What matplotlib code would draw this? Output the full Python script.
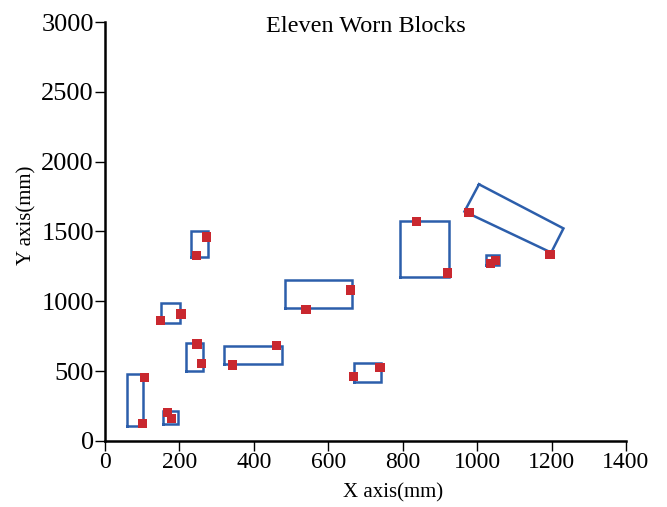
import matplotlib
matplotlib.use("Agg")
import matplotlib.pyplot as plt

# Axis-aligned block outlines (mm)
rect_x0 = [58, 155, 218, 320, 150, 231, 484, 670, 794, 1025]
rect_x1 = [103, 195, 263, 476, 202, 276, 665, 741, 924, 1058]
rect_y0 = [110, 122, 503, 551, 845, 1319, 952, 424, 1172, 1260]
rect_y1 = [477, 217, 704, 682, 990, 1503, 1152, 560, 1573, 1329]

# Rotated block outline corners (mm)
rot_x = [1005, 1232, 1199, 966]
rot_y = [1838, 1522, 1349, 1643]

# Measured points (mm)
pt_x = [106, 100, 167, 179, 247, 259, 461, 342, 150, 204, 272, 245,
        659, 540, 668, 739, 838, 921, 978, 1196, 1036, 1049]
pt_y = [453, 124, 203, 162, 694, 553, 682, 544, 864, 909, 1460, 1326,
        1081, 943, 460, 528, 1570, 1203, 1637, 1338, 1272, 1291]

x_ticks = [0, 200, 400, 600, 800, 1000, 1200, 1400]
y_ticks = [0, 500, 1000, 1500, 2000, 2500, 3000]

plt.rcParams['font.family'] = ['Liberation Serif', 'DejaVu Serif']

blue = '#2c5eab'
red = '#c9282f'

fig = plt.figure(figsize=(6.67, 5.07), dpi=100)
ax = fig.add_axes([0.1574, 0.1302, 0.7811, 0.8264])

for x0, x1, y0, y1 in zip(rect_x0, rect_x1, rect_y0, rect_y1):
    ax.plot([x0, x1, x1, x0, x0], [y0, y0, y1, y1, y0], color=blue, lw=1.8,
            solid_joinstyle='miter', zorder=2)
ax.plot(rot_x + [rot_x[0]], rot_y + [rot_y[0]], color=blue, lw=1.8,
        solid_joinstyle='miter', zorder=2)

ax.scatter(pt_x, pt_y, marker='s', s=44, color=red, edgecolors='none', zorder=3)

ax.set_xlim(0, 1400)
ax.set_ylim(0, 3000)
ax.set_xticks(x_ticks)
ax.set_yticks(y_ticks)
ax.tick_params(axis='x', labelsize=17, direction='out', length=7, width=1.0, pad=1)
ax.tick_params(axis='y', labelsize=19, direction='out', length=7, width=1.0, pad=1)
for s in ['top', 'right']:
    ax.spines[s].set_visible(False)
for s in ['left', 'bottom']:
    ax.spines[s].set_linewidth(1.8)

ax.set_xlabel('X axis(mm)', fontsize=15, va='center')
ax.xaxis.set_label_coords(0.553, -0.124)
ax.set_ylabel('Y axis(mm)', fontsize=15, va='center')
ax.yaxis.set_label_coords(-0.150, 0.539)
ax.text(0.5, 0.976, 'Eleven Worn Blocks', transform=ax.transAxes, ha='center',
        va='baseline', fontsize=17.5)

fig.savefig('out.png', dpi=100)
